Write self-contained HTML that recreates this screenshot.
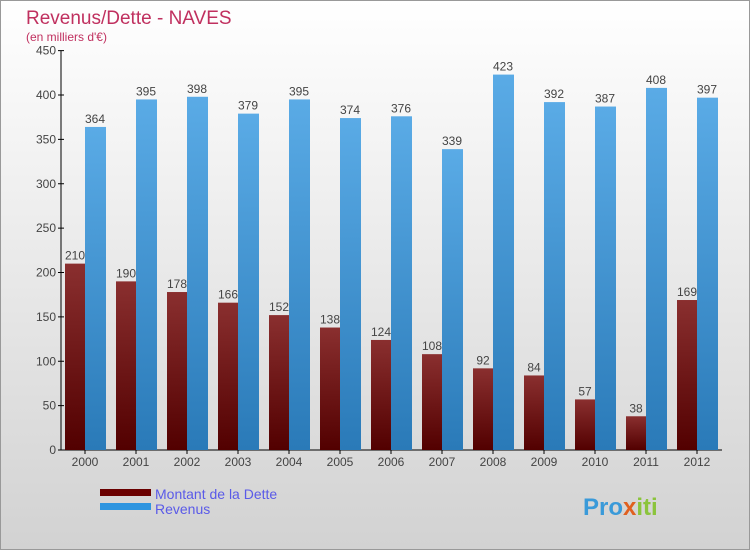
<!DOCTYPE html>
<html><head><meta charset="utf-8"><style>
body{margin:0;width:750px;height:550px;overflow:hidden}
svg{display:block;font-family:"Liberation Sans",sans-serif}
</style></head><body>
<svg width="750" height="550">
<defs>
<linearGradient id="bg" x1="0" y1="0" x2="0" y2="1"><stop offset="0" stop-color="#ffffff"/><stop offset="1" stop-color="#d2d2d2"/></linearGradient>
<linearGradient id="gd" x1="0" y1="0" x2="0" y2="1"><stop offset="0" stop-color="#8a2f2f"/><stop offset="1" stop-color="#520000"/></linearGradient>
<linearGradient id="gr" x1="0" y1="0" x2="0" y2="1"><stop offset="0" stop-color="#5aabe6"/><stop offset="1" stop-color="#2a7ab8"/></linearGradient>
</defs>
<rect x="0.5" y="0.5" width="749" height="549" fill="url(#bg)" stroke="#999"/>
<text x="26" y="24" font-size="19" fill="#c0305f">Revenus/Dette - NAVES</text>
<text x="26" y="41" font-size="12" fill="#c0305f">(en milliers d'€)</text>
<g id="axes"></g>
<g id="bars"></g>
<rect x="100" y="489" width="51" height="7" fill="#6a0000"/>
<text x="155" y="499" font-size="14" fill="#5a5ae8">Montant de la Dette</text>
<rect x="100" y="503" width="51" height="7" fill="#2e95e0"/>
<text x="155" y="514" font-size="14" fill="#5a5ae8">Revenus</text>
<text x="583" y="515" font-size="24" font-weight="bold" fill="#3a9ad9">Pro<tspan fill="#e06020">x</tspan><tspan fill="#8bc43c">iti</tspan></text>
</svg>
<script>
const years=["2000","2001","2002","2003","2004","2005","2006","2007","2008","2009","2010","2011","2012"];
const dette=[210,190,178,166,152,138,124,108,92,84,57,38,169];
const revenus=[364,395,398,379,395,374,376,339,423,392,387,408,397];
const ticks=[0,50,100,150,200,250,300,350,400,450];
const NS="http://www.w3.org/2000/svg";
const y=v=>450-v*355/400;
const x=i=>85+i*51;
function mk(t,a,p){const e=document.createElementNS(NS,t);for(const k in a)e.setAttribute(k,a[k]);p.appendChild(e);return e;}
const ax=document.getElementById('axes'),bg=document.getElementById('bars');
const yl=mk('line',{x1:61,y1:y(450),x2:61,y2:450,stroke:'#000'},ax);


const xl=mk('line',{x1:61,y1:450,x2:722,y2:450,stroke:'#000'},ax);


ticks.forEach(t=>{
 mk('line',{x1:58,x2:64,y1:y(t),y2:y(t),stroke:'#000'},ax);
 const tx=mk('text',{x:56,y:y(t)+4,'font-size':12,'text-anchor':'end',fill:'#444'},ax);tx.textContent=t;
 
 
});
years.forEach((yr,i)=>{
 const c=x(i);
 mk('line',{x1:c,x2:c,y1:450,y2:454,stroke:'#000'},ax);
 const t=mk('text',{x:c,y:466,'font-size':12,'text-anchor':'middle',fill:'#444'},ax);t.textContent=yr;
 
 
 const b1=mk('rect',{x:c-20,y:y(dette[i]),width:20,height:450-y(dette[i]),fill:'url(#gd)'},bg);
 
 
 const b2=mk('rect',{x:c,y:y(revenus[i]),width:21,height:450-y(revenus[i]),fill:'url(#gr)'},bg);
 
 
 const l1=mk('text',{x:c-10,y:y(dette[i])-4,'font-size':12,'text-anchor':'middle',fill:'#444'},bg);l1.textContent=dette[i];
 
 
 const l2=mk('text',{x:c+10,y:y(revenus[i])-4,'font-size':12,'text-anchor':'middle',fill:'#444'},bg);l2.textContent=revenus[i];
 
 
});
</script>
</body></html>
